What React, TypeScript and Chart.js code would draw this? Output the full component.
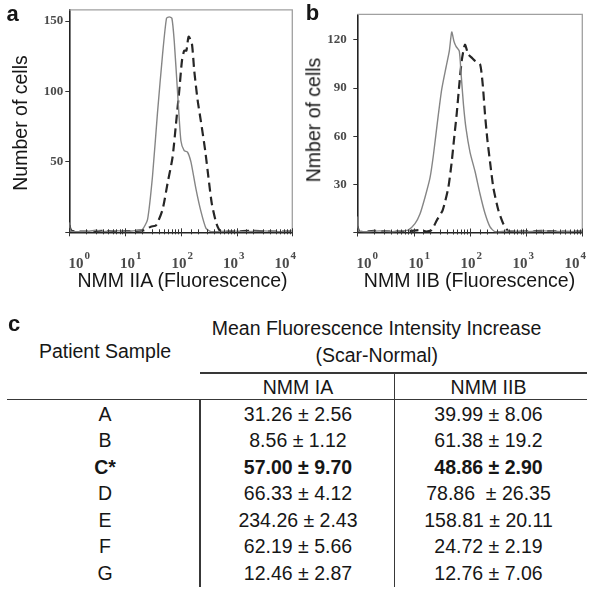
import React, { useEffect, useRef } from "react";
import { Chart, registerables } from "chart.js";
Chart.register(...registerables);

// ---------- data ----------
const xDecadeExponents = [0, 1, 2, 3, 4];

// Panel a: NMM IIA (solid = normal, dashed = scar)
const iiaNormalX = [1, 1.05, 1.3, 2, 3, 4, 6, 8, 10, 14, 18, 20.6, 25.3, 31.1, 38.2, 47, 55.4, 62, 69.2, 76.2, 87.3, 100.4, 115, 132, 152, 186.5, 229, 282, 346, 500, 800, 1500, 3000, 6000, 10000];
const iiaNormalY = [7, 1, 0.5, 0.5, 1.5, 0.5, 1, 1, 0.5, 1, 1.5, 2, 9, 40, 85, 126, 152, 153, 152, 136, 100, 65, 58, 57, 50, 31, 15, 3, 0.5, 0.5, 1, 0.5, 1, 0.5, 1];
const iiaScarX = [1, 1.1, 2, 4, 8, 15, 22, 29, 36, 47, 58, 71, 82, 94, 105, 115, 126, 138, 158, 174, 200, 229, 274, 313, 361, 437, 524, 800, 2000, 5000, 10000];
const iiaScarY = [5, 1, 0.5, 1, 0.5, 1, 1.5, 4, 5, 16, 35, 53, 77, 101, 122, 129, 129, 139, 134, 115, 94, 79, 58, 39, 20, 6, 0.5, 0.5, 1, 0.5, 0.5];
const iiaYMax = 158;
const iiaYStep = 50;

// Panel b: NMM IIB
const iibNormalX = [1, 1.05, 1.5, 2.5, 4, 6, 8, 10.6, 13, 16, 19.6, 22.5, 26.4, 31.6, 37.8, 43.2, 47.7, 52.4, 56.9, 65, 70, 77, 85.5, 101, 124, 152, 186, 229, 280, 500, 1000, 2000, 5000, 10000];
const iibNormalY = [10, 1, 0.5, 1, 0.5, 1, 1.5, 5.5, 11.5, 22, 34, 48, 68, 89, 103, 113, 125, 119, 116, 113, 99, 80, 65, 50, 38, 24, 12, 3.5, 0.5, 1, 0.5, 1, 0.5, 1];
const iibScarX = [1, 1.1, 2, 5, 9, 13, 17, 21, 25.8, 33, 41.5, 47.7, 52.4, 58.5, 65, 71.8, 82, 94, 108, 124, 152, 170, 186, 205, 229, 262, 321, 394, 484, 800, 2000, 5000, 10000];
const iibScarY = [4, 0.5, 1, 0.5, 1, 1.5, 0.5, 1.5, 7.5, 14, 28, 44, 58, 74, 92, 107, 117, 111, 109, 107, 105, 92, 74, 58, 44, 28, 14, 5.5, 1, 0.5, 1, 0.5, 0.5];
const iibYMax = 136;
const iibYStep = 30;

// Table c
const patientSamples = ["A", "B", "C*", "D", "E", "F", "G"];
const nmmIAValues = ["31.26 ± 2.56", "8.56 ± 1.12", "57.00 ± 9.70", "66.33 ± 4.12", "234.26 ± 2.43", "62.19 ± 5.66", "12.46 ± 2.87"];
const nmmIIBValues = ["39.99 ± 8.06", "61.38 ± 19.2", "48.86 ± 2.90", "78.86  ± 26.35", "158.81 ± 20.11", "24.72 ± 2.19", "12.76 ± 7.06"];
const boldSamples = ["C*"];

// ---------- helpers ----------
const SANS = '"Liberation Sans", Arial, Helvetica, sans-serif';
const SERIF = '"Liberation Serif", "Times New Roman", serif';
const TEXT_COLOR = "#161616";

function T(props: { x: number; y: number; size?: number; bold?: boolean; align?: string; children: any; color?: string }) {
  const { x, y, size = 19.5, bold = false, align = "center", children, color = TEXT_COLOR } = props;
  const tx = align === "center" ? "-50%" : align === "right" ? "-100%" : "0";
  return (
    <div
      style={{
        position: "absolute",
        left: x,
        top: y - 0.8465 * size,
        fontFamily: SANS,
        fontSize: size,
        fontWeight: bold ? 700 : 400,
        lineHeight: 1,
        whiteSpace: "pre",
        transform: `translateX(${tx})`,
        color,
      }}
    >
      {children}
    </div>
  );
}

function VText(props: { cx: number; cy: number; size?: number; children: any }) {
  const { cx, cy, size = 19.5, children } = props;
  return (
    <div
      style={{
        position: "absolute",
        left: cx,
        top: cy,
        fontFamily: SANS,
        fontSize: size,
        lineHeight: 1,
        whiteSpace: "pre",
        color: TEXT_COLOR,
        transform: "translate(-50%, -50%) rotate(-90deg)",
      }}
    >
      {children}
    </div>
  );
}

function Line(props: { x: number; y: number; w: number; h: number }) {
  const { x, y, w, h } = props;
  return <div style={{ position: "absolute", left: x, top: y, width: w, height: h, background: "#383838" }} />;
}

type HistProps = {
  pageLeft: number;
  normalX: number[];
  normalY: number[];
  scarX: number[];
  scarY: number[];
  yMax: number;
  yStep: number;
  area: { left: number; right: number; top: number; bottom: number };
  labelPad: number;
};

function Histogram(p: HistProps) {
  const ref = useRef<HTMLCanvasElement | null>(null);
  useEffect(() => {
    const canvas = ref.current!;
    const W = 300;
    const H = 300;
    const pts = (xs: number[], ys: number[]) => xs.map((x, i) => ({ x, y: ys[i] }));
    const decor = {
      id: "decor",
      afterDraw(chart: any) {
        const { ctx, chartArea: ca, scales } = chart;
        const xs = scales.x;
        ctx.save();
        // top and right frame
        ctx.strokeStyle = "#a0a0a0";
        ctx.lineWidth = 1.3;
        ctx.beginPath();
        ctx.moveTo(ca.left, ca.top);
        ctx.lineTo(ca.right, ca.top);
        ctx.lineTo(ca.right, ca.bottom);
        ctx.stroke();
        // log ticks
        ctx.strokeStyle = "#333";
        ctx.lineWidth = 1;
        xs.ticks.forEach((t: any) => {
          const lg = Math.log10(t.value);
          const major = Math.abs(lg - Math.round(lg)) < 1e-9;
          const px = Math.round(xs.getPixelForValue(t.value)) + 0.5;
          ctx.beginPath();
          ctx.moveTo(px, ca.bottom - (major ? 4 : 3));
          ctx.lineTo(px, ca.bottom + (major ? 4 : 2));
          ctx.stroke();
        });
        // decade labels 10^k
        const w = ca.right - ca.left;
        ctx.fillStyle = "#4a4a4a";
        ctx.textAlign = "left";
        ctx.textBaseline = "alphabetic";
        xDecadeExponents.forEach((e, i) => {
          const cx = ca.left + 10 + (i * (w - 17)) / 4;
          ctx.font = `bold 15px ${SERIF}`;
          const bw = ctx.measureText("10").width;
          ctx.font = `bold 11px ${SERIF}`;
          const ew = ctx.measureText(String(e)).width;
          const x0 = cx - (bw + 1 + ew) / 2;
          ctx.font = `bold 15px ${SERIF}`;
          ctx.fillText("10", x0, ca.bottom + 35.7);
          ctx.font = `bold 11px ${SERIF}`;
          ctx.fillText(String(e), x0 + bw + 1, ca.bottom + 26.5);
        });
        ctx.restore();
      },
    };
    const chart = new Chart(canvas, {
      type: "line",
      data: {
        datasets: [
          {
            data: pts(p.normalX, p.normalY),
            borderColor: "#858585",
            borderWidth: 1.4,
            pointRadius: 0,
            tension: 0.2,
            fill: false,
          },
          {
            data: pts(p.scarX, p.scarY),
            borderColor: "#262626",
            borderWidth: 2.2,
            borderDash: [9, 5],
            pointRadius: 0,
            tension: 0.2,
            fill: false,
          },
        ],
      },
      options: {
        responsive: false,
        animation: false,
        devicePixelRatio: 1,
        layout: { padding: { top: p.area.top, right: W - p.area.right, left: 0, bottom: 0 } },
        plugins: { legend: { display: false }, tooltip: { enabled: false } },
        scales: {
          x: {
            type: "logarithmic",
            min: 1,
            max: 10000,
            ticks: { display: false },
            grid: { display: false },
            border: { display: true, color: "#222", width: 1.6 },
            afterFit: (s: any) => {
              s.height = H - p.area.bottom;
            },
          },
          y: {
            type: "linear",
            min: 0,
            max: p.yMax,
            ticks: {
              stepSize: p.yStep,
              includeBounds: false,
              callback: (v: any) => (v === 0 ? "" : String(v)),
              font: { family: SERIF, weight: "bold", size: 13 },
              color: "#4a4a4a",
              padding: p.labelPad,
            },
            grid: { drawOnChartArea: false, tickLength: 4, color: "#333" },
            border: { display: true, color: "#222", width: 1.6 },
            afterFit: (s: any) => {
              s.width = p.area.left;
            },
          },
        },
      } as any,
      plugins: [decor],
    });
    return () => chart.destroy();
  }, []);
  return (
    <canvas
      ref={ref}
      width={300}
      height={300}
      style={{ position: "absolute", left: p.pageLeft, top: 0, width: 300, height: 300 }}
    />
  );
}

export default function App() {
  const rowBase0 = 421.5;
  const rowStep = 26.5;
  return (
    <div style={{ position: "absolute", left: 0, top: 0, width: 600, height: 594, background: "#fff", overflow: "hidden" }}>
      <Histogram
        pageLeft={0}
        normalX={iiaNormalX}
        normalY={iiaNormalY}
        scarX={iiaScarX}
        scarY={iiaScarY}
        yMax={iiaYMax}
        yStep={iiaYStep}
        area={{ left: 69.3, right: 292.3, top: 9, bottom: 232.3 }}
        labelPad={2}
      />
      <Histogram
        pageLeft={300}
        normalX={iibNormalX}
        normalY={iibNormalY}
        scarX={iibScarX}
        scarY={iibScarY}
        yMax={iibYMax}
        yStep={iibYStep}
        area={{ left: 57.3, right: 282.3, top: 9, bottom: 232.5 }}
        labelPad={6.5}
      />
      <T x={12.5} y={21.7} size={22} bold>a</T>
      <T x={312.5} y={20.7} size={22} bold>b</T>
      <VText cx={20.5} cy={123.3}>Number of cells</VText>
      <VText cx={314.2} cy={120}>Nmber of cells</VText>
      <T x={182.5} y={287.3}>NMM IIA (Fluorescence)</T>
      <T x={469.5} y={287.3}>NMM IIB (Fluorescence)</T>

      <T x={14} y={332} size={22} bold>c</T>
      <T x={376.5} y={336}>Mean Fluorescence Intensity Increase</T>
      <T x={376.7} y={362.5}>(Scar-Normal)</T>
      <T x={105} y={359}>Patient Sample</T>
      <Line x={200} y={372} w={387} h={1.6} />
      <T x={298} y={394.3}>NMM IA</T>
      <T x={488.5} y={394.3}>NMM IIB</T>
      <Line x={7} y={398.6} w={580} h={1.6} />
      <Line x={199.3} y={399} w={1.6} h={188} />
      <Line x={393.5} y={372} w={1.6} h={215} />
      {patientSamples.map((s, i) => {
        const b = boldSamples.includes(s);
        const y = rowBase0 + i * rowStep;
        return (
          <React.Fragment key={s}>
            <T x={105} y={y} bold={b}>{s}</T>
            <T x={298} y={y} bold={b}>{nmmIAValues[i]}</T>
            <T x={488.5} y={y} bold={b}>{nmmIIBValues[i]}</T>
          </React.Fragment>
        );
      })}
    </div>
  );
}
